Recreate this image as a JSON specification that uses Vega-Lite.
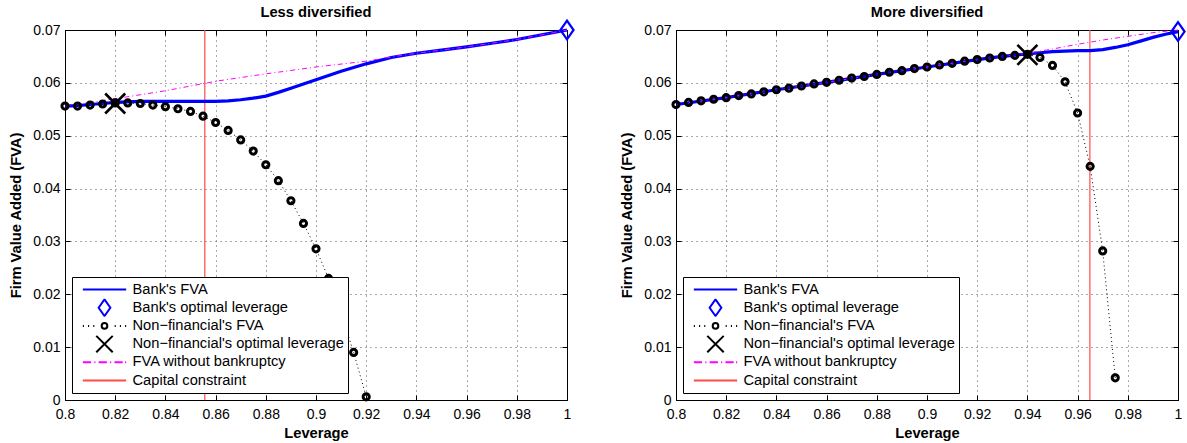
{
  "$schema": "https://vega.github.io/schema/vega-lite/v6.json",
  "padding": {"left": 8, "top": 4, "right": 0, "bottom": 0},
  "background": "white",
  "datasets": {
    "less": [
      {"s": "cap", "x": 0.8557},
      {"s": "bankopt", "x": 1.0, "y": 0.07},
      {"s": "nfopt", "x": 0.82, "y": 0.0561},
      {"s": "nf", "x": 0.800, "y": 0.0556},
      {"s": "nf", "x": 0.805, "y": 0.0556},
      {"s": "nf", "x": 0.810, "y": 0.0558},
      {"s": "nf", "x": 0.815, "y": 0.0560},
      {"s": "nf", "x": 0.820, "y": 0.0562},
      {"s": "nf", "x": 0.825, "y": 0.0562},
      {"s": "nf", "x": 0.830, "y": 0.0561},
      {"s": "nf", "x": 0.835, "y": 0.0558},
      {"s": "nf", "x": 0.840, "y": 0.0555},
      {"s": "nf", "x": 0.845, "y": 0.0551},
      {"s": "nf", "x": 0.850, "y": 0.0546},
      {"s": "nf", "x": 0.855, "y": 0.0537},
      {"s": "nf", "x": 0.860, "y": 0.0525},
      {"s": "nf", "x": 0.865, "y": 0.0510},
      {"s": "nf", "x": 0.870, "y": 0.0492},
      {"s": "nf", "x": 0.875, "y": 0.0471},
      {"s": "nf", "x": 0.880, "y": 0.0445},
      {"s": "nf", "x": 0.885, "y": 0.0415},
      {"s": "nf", "x": 0.890, "y": 0.0377},
      {"s": "nf", "x": 0.895, "y": 0.0334},
      {"s": "nf", "x": 0.900, "y": 0.0286},
      {"s": "nf", "x": 0.905, "y": 0.0230},
      {"s": "nf", "x": 0.910, "y": 0.0164},
      {"s": "nf", "x": 0.915, "y": 0.0090},
      {"s": "nf", "x": 0.920, "y": 0.0006},
      {"s": "bank", "x": 0.800, "y": 0.0556},
      {"s": "bank", "x": 0.805, "y": 0.0557},
      {"s": "bank", "x": 0.810, "y": 0.0559},
      {"s": "bank", "x": 0.815, "y": 0.0561},
      {"s": "bank", "x": 0.820, "y": 0.0563},
      {"s": "bank", "x": 0.830, "y": 0.0565},
      {"s": "bank", "x": 0.840, "y": 0.0565},
      {"s": "bank", "x": 0.850, "y": 0.0565},
      {"s": "bank", "x": 0.860, "y": 0.0565},
      {"s": "bank", "x": 0.865, "y": 0.0566},
      {"s": "bank", "x": 0.870, "y": 0.0568},
      {"s": "bank", "x": 0.875, "y": 0.0571},
      {"s": "bank", "x": 0.880, "y": 0.0575},
      {"s": "bank", "x": 0.885, "y": 0.0582},
      {"s": "bank", "x": 0.890, "y": 0.0590},
      {"s": "bank", "x": 0.895, "y": 0.0598},
      {"s": "bank", "x": 0.900, "y": 0.0606},
      {"s": "bank", "x": 0.910, "y": 0.0622},
      {"s": "bank", "x": 0.920, "y": 0.0636},
      {"s": "bank", "x": 0.930, "y": 0.0648},
      {"s": "bank", "x": 0.940, "y": 0.0656},
      {"s": "bank", "x": 0.950, "y": 0.0662},
      {"s": "bank", "x": 0.960, "y": 0.0668},
      {"s": "bank", "x": 0.970, "y": 0.0675},
      {"s": "bank", "x": 0.980, "y": 0.0682},
      {"s": "bank", "x": 0.990, "y": 0.0691},
      {"s": "bank", "x": 1.000, "y": 0.0700},
      {"s": "nobk", "x": 0.800, "y": 0.0556},
      {"s": "nobk", "x": 0.820, "y": 0.0570},
      {"s": "nobk", "x": 0.840, "y": 0.0585},
      {"s": "nobk", "x": 0.860, "y": 0.0603},
      {"s": "nobk", "x": 0.880, "y": 0.0617},
      {"s": "nobk", "x": 0.900, "y": 0.0630},
      {"s": "nobk", "x": 0.920, "y": 0.0641},
      {"s": "nobk", "x": 0.930, "y": 0.0649},
      {"s": "nobk", "x": 0.940, "y": 0.0656},
      {"s": "nobk", "x": 0.950, "y": 0.0662},
      {"s": "nobk", "x": 0.960, "y": 0.0668},
      {"s": "nobk", "x": 0.970, "y": 0.0675},
      {"s": "nobk", "x": 0.980, "y": 0.0682},
      {"s": "nobk", "x": 0.990, "y": 0.0691},
      {"s": "nobk", "x": 1.000, "y": 0.0700}
    ],
    "more": [
      {"s": "cap", "x": 0.9649},
      {"s": "bankopt", "x": 1.0, "y": 0.0697},
      {"s": "nfopt", "x": 0.94, "y": 0.0653},
      {"s": "nf", "x": 0.800, "y": 0.0559},
      {"s": "nf", "x": 0.805, "y": 0.0563},
      {"s": "nf", "x": 0.810, "y": 0.0566},
      {"s": "nf", "x": 0.815, "y": 0.0569},
      {"s": "nf", "x": 0.820, "y": 0.0572},
      {"s": "nf", "x": 0.825, "y": 0.0576},
      {"s": "nf", "x": 0.830, "y": 0.0579},
      {"s": "nf", "x": 0.835, "y": 0.0583},
      {"s": "nf", "x": 0.840, "y": 0.0587},
      {"s": "nf", "x": 0.845, "y": 0.0590},
      {"s": "nf", "x": 0.850, "y": 0.0594},
      {"s": "nf", "x": 0.855, "y": 0.0598},
      {"s": "nf", "x": 0.860, "y": 0.0601},
      {"s": "nf", "x": 0.865, "y": 0.0605},
      {"s": "nf", "x": 0.870, "y": 0.0609},
      {"s": "nf", "x": 0.875, "y": 0.0612},
      {"s": "nf", "x": 0.880, "y": 0.0616},
      {"s": "nf", "x": 0.885, "y": 0.0620},
      {"s": "nf", "x": 0.890, "y": 0.0623},
      {"s": "nf", "x": 0.895, "y": 0.0627},
      {"s": "nf", "x": 0.900, "y": 0.0630},
      {"s": "nf", "x": 0.905, "y": 0.0634},
      {"s": "nf", "x": 0.910, "y": 0.0637},
      {"s": "nf", "x": 0.915, "y": 0.0641},
      {"s": "nf", "x": 0.920, "y": 0.0644},
      {"s": "nf", "x": 0.925, "y": 0.0647},
      {"s": "nf", "x": 0.930, "y": 0.0650},
      {"s": "nf", "x": 0.935, "y": 0.0652},
      {"s": "nf", "x": 0.940, "y": 0.0654},
      {"s": "nf", "x": 0.945, "y": 0.0648},
      {"s": "nf", "x": 0.950, "y": 0.0633},
      {"s": "nf", "x": 0.955, "y": 0.0602},
      {"s": "nf", "x": 0.960, "y": 0.0543},
      {"s": "nf", "x": 0.965, "y": 0.0442},
      {"s": "nf", "x": 0.970, "y": 0.0282},
      {"s": "nf", "x": 0.975, "y": 0.0042},
      {"s": "bank", "x": 0.800, "y": 0.0559},
      {"s": "bank", "x": 0.820, "y": 0.0572},
      {"s": "bank", "x": 0.840, "y": 0.0587},
      {"s": "bank", "x": 0.860, "y": 0.0601},
      {"s": "bank", "x": 0.880, "y": 0.0616},
      {"s": "bank", "x": 0.900, "y": 0.0630},
      {"s": "bank", "x": 0.920, "y": 0.0644},
      {"s": "bank", "x": 0.930, "y": 0.0650},
      {"s": "bank", "x": 0.940, "y": 0.0655},
      {"s": "bank", "x": 0.945, "y": 0.0657},
      {"s": "bank", "x": 0.950, "y": 0.0659},
      {"s": "bank", "x": 0.955, "y": 0.0660},
      {"s": "bank", "x": 0.960, "y": 0.0661},
      {"s": "bank", "x": 0.965, "y": 0.0661},
      {"s": "bank", "x": 0.970, "y": 0.0663},
      {"s": "bank", "x": 0.975, "y": 0.0667},
      {"s": "bank", "x": 0.980, "y": 0.0672},
      {"s": "bank", "x": 0.985, "y": 0.0679},
      {"s": "bank", "x": 0.990, "y": 0.0686},
      {"s": "bank", "x": 0.995, "y": 0.0692},
      {"s": "bank", "x": 1.000, "y": 0.0697},
      {"s": "nobk", "x": 0.800, "y": 0.0559},
      {"s": "nobk", "x": 0.820, "y": 0.0572},
      {"s": "nobk", "x": 0.840, "y": 0.0587},
      {"s": "nobk", "x": 0.860, "y": 0.0601},
      {"s": "nobk", "x": 0.880, "y": 0.0616},
      {"s": "nobk", "x": 0.900, "y": 0.0630},
      {"s": "nobk", "x": 0.920, "y": 0.0644},
      {"s": "nobk", "x": 0.930, "y": 0.0650},
      {"s": "nobk", "x": 0.940, "y": 0.0656},
      {"s": "nobk", "x": 0.950, "y": 0.0664},
      {"s": "nobk", "x": 0.960, "y": 0.0673},
      {"s": "nobk", "x": 0.970, "y": 0.0681},
      {"s": "nobk", "x": 0.980, "y": 0.0688},
      {"s": "nobk", "x": 0.990, "y": 0.0695},
      {"s": "nobk", "x": 1.000, "y": 0.0700}
    ]
  },
  "config": {
    "font": "Liberation Sans",
    "view": {"stroke": "black", "strokeWidth": 1},
    "axis": {
      "labelFont": "Liberation Sans", "titleFont": "Liberation Sans",
      "labelFontSize": 14, "titleFontSize": 14.7, "titleFontWeight": "bold",
      "labelColor": "black", "titleColor": "black",
      "domainColor": "black", "tickColor": "black", "tickSize": -5, "tickWidth": 1,
      "gridColor": "#555555", "gridDash": [1, 4], "gridOpacity": 1, "gridWidth": 1,
      "labelFlush": false, "labelOverlap": false
    },
    "axisX": {"labelPadding": 12, "titlePadding": 4},
    "axisY": {"labelPadding": 10, "titlePadding": 9},
    "title": {"font": "Liberation Sans", "fontSize": 14.7, "fontWeight": "bold", "color": "black", "anchor": "middle"}
  },
  "spacing": 109,
  "bounds": "flush",
  "resolve": {"scale": {"color": "independent", "shape": "independent"}, "legend": {"color": "independent", "shape": "independent"}},
  "hconcat": [
    {
      "width": 502, "height": 370,
      "title": {"text": "Less diversified", "offset": -3},
      "data": {"name": "less"},
      "layer": [
        {"transform": [{"filter": "datum.s === 'cap'"}], "mark": {"type": "rule", "color": "#ff4a4a", "strokeWidth": 1.2},
         "encoding": {"x": {"field": "x", "type": "quantitative", "scale": {"domain": [0.8, 1], "nice": false, "zero": false}, "axis": null}}},
        {"transform": [{"filter": "datum.s === 'bank'"}], "mark": {"type": "line", "color": "#0000ff", "strokeWidth": 3.2},
         "encoding": {
           "x": {"field": "x", "type": "quantitative", "scale": {"domain": [0.8, 1], "nice": false, "zero": false},
                 "axis": {"orient": "bottom", "values": [0.8, 0.82, 0.84, 0.86, 0.88, 0.9, 0.92, 0.94, 0.96, 0.98, 1], "format": "~g", "title": "Leverage", "grid": true}},
           "y": {"field": "y", "type": "quantitative", "scale": {"domain": [0, 0.07], "nice": false},
                 "axis": {"orient": "left", "values": [0, 0.01, 0.02, 0.03, 0.04, 0.05, 0.06, 0.07], "format": "~g", "title": "Firm Value Added (FVA)", "grid": true}}}},
        {"transform": [{"filter": "datum.s === 'nobk'"}], "mark": {"type": "line", "color": "#ff00ff", "strokeWidth": 1, "strokeDash": [5, 3, 1, 3]},
         "encoding": {
           "x": {"field": "x", "type": "quantitative", "scale": {"domain": [0.8, 1], "nice": false, "zero": false},
                 "axis": {"orient": "top", "values": [0.8, 0.82, 0.84, 0.86, 0.88, 0.9, 0.92, 0.94, 0.96, 0.98, 1], "labels": false, "title": null, "grid": false}},
           "y": {"field": "y", "type": "quantitative", "scale": {"domain": [0, 0.07], "nice": false},
                 "axis": {"orient": "right", "values": [0, 0.01, 0.02, 0.03, 0.04, 0.05, 0.06, 0.07], "labels": false, "title": null, "grid": false}}}},
        {"transform": [{"filter": "datum.s === 'nf'"}], "mark": {"type": "line", "color": "black", "strokeWidth": 1, "strokeDash": [1, 3]},
         "encoding": {"x": {"field": "x", "type": "quantitative", "axis": null}, "y": {"field": "y", "type": "quantitative", "axis": null}}},
        {"transform": [{"filter": "datum.s === 'nf'"}], "mark": {"type": "point", "shape": "circle", "filled": false, "color": "black", "opacity": 1, "strokeWidth": 3, "size": 38},
         "encoding": {"x": {"field": "x", "type": "quantitative", "axis": null}, "y": {"field": "y", "type": "quantitative", "axis": null}}},
        {"transform": [{"filter": "datum.s === 'nfopt'"}], "mark": {"type": "point", "shape": "M-0.38,-0.38L0.38,0.38M-0.38,0.38L0.38,-0.38", "filled": false, "color": "black", "opacity": 1, "strokeWidth": 2.6, "size": 2770},
         "encoding": {"x": {"field": "x", "type": "quantitative", "axis": null}, "y": {"field": "y", "type": "quantitative", "axis": null}}},
        {"transform": [{"filter": "datum.s === 'bankopt'"}], "mark": {"type": "point", "shape": "M0,-0.385L0.27,0L0,0.385L-0.27,0Z", "filled": false, "color": "#0000ff", "opacity": 1, "strokeWidth": 2.2, "size": 2360},
         "encoding": {"x": {"field": "x", "type": "quantitative", "axis": null}, "y": {"field": "y", "type": "quantitative", "axis": null}}},
        {"transform": [{"filter": "false"}], "mark": {"type": "point", "filled": false, "opacity": 1, "strokeWidth": 2},
         "encoding": {
           "shape": {"field": "name", "type": "nominal",
             "scale": {"domain": ["Bank's FVA", "Bank's optimal leverage", "Non−financial's FVA", "Non−financial's optimal leverage", "FVA without bankruptcy", "Capital constraint"],
                       "range": ["M-1,0L1,0", "M0,-0.385L0.27,0L0,0.385L-0.27,0Z", "M-1,0L-0.95,0M-0.76,0L-0.71,0M-0.52,0L-0.47,0M0.47,0L0.52,0M0.71,0L0.76,0M0.95,0L1,0M-0.13,0A0.13,0.13 0 1,0 0.13,0A0.13,0.13 0 1,0 -0.13,0", "M-0.38,-0.38L0.38,0.38M-0.38,0.38L0.38,-0.38", "M-1,0L-0.62,0M-0.47,0L-0.42,0M-0.27,0L0.11,0M0.26,0L0.31,0M0.46,0L0.84,0M0.95,0L1,0", "M-1,0L1,0"]},
             "legend": {"orient": "bottom-left", "offset": 7, "title": null, "symbolSize": 1875, "clipHeight": 18, "rowPadding": 0.2,
                        "labelFont": "Liberation Sans", "labelFontSize": 14.7, "labelColor": "black", "labelLimit": 400, "padding": 3.5,
                        "strokeColor": "black", "fillColor": "white", "symbolOffset": 6, "labelOffset": 5, "symbolStrokeWidth": 2,
                        "encode": {"symbols": {"update": {"strokeWidth": {"signal": "datum.index === 0 ? 3.2 : (datum.index >= 4 ? 1.3 : 2.5)"}}}}}},
           "color": {"field": "name", "type": "nominal",
             "scale": {"domain": ["Bank's FVA", "Bank's optimal leverage", "Non−financial's FVA", "Non−financial's optimal leverage", "FVA without bankruptcy", "Capital constraint"],
                       "range": ["#0000ff", "#0000ff", "black", "black", "#ff00ff", "#ff4a4a"]},
             "legend": {"orient": "bottom-left", "offset": 7, "title": null, "symbolSize": 1875, "clipHeight": 18, "rowPadding": 0.2,
                        "labelFont": "Liberation Sans", "labelFontSize": 14.7, "labelColor": "black", "labelLimit": 400, "padding": 3.5,
                        "strokeColor": "black", "fillColor": "white", "symbolOffset": 6, "labelOffset": 5, "symbolStrokeWidth": 2,
                        "encode": {"symbols": {"update": {"strokeWidth": {"signal": "datum.index === 0 ? 3.2 : (datum.index >= 4 ? 1.3 : 2.5)"}}}}}}}}
      ]
    },
    {
      "width": 502, "height": 370,
      "title": {"text": "More diversified", "offset": -1.4},
      "data": {"name": "more"},
      "layer": [
        {"transform": [{"filter": "datum.s === 'cap'"}], "mark": {"type": "rule", "color": "#ff4a4a", "strokeWidth": 1.2},
         "encoding": {"x": {"field": "x", "type": "quantitative", "scale": {"domain": [0.8, 1], "nice": false, "zero": false}, "axis": null}}},
        {"transform": [{"filter": "datum.s === 'bank'"}], "mark": {"type": "line", "color": "#0000ff", "strokeWidth": 3.2},
         "encoding": {
           "x": {"field": "x", "type": "quantitative", "scale": {"domain": [0.8, 1], "nice": false, "zero": false},
                 "axis": {"orient": "bottom", "values": [0.8, 0.82, 0.84, 0.86, 0.88, 0.9, 0.92, 0.94, 0.96, 0.98, 1], "format": "~g", "title": "Leverage", "grid": true}},
           "y": {"field": "y", "type": "quantitative", "scale": {"domain": [0, 0.07], "nice": false},
                 "axis": {"orient": "left", "values": [0, 0.01, 0.02, 0.03, 0.04, 0.05, 0.06, 0.07], "format": "~g", "title": "Firm Value Added (FVA)", "grid": true}}}},
        {"transform": [{"filter": "datum.s === 'nobk'"}], "mark": {"type": "line", "color": "#ff00ff", "strokeWidth": 1, "strokeDash": [5, 3, 1, 3]},
         "encoding": {
           "x": {"field": "x", "type": "quantitative", "scale": {"domain": [0.8, 1], "nice": false, "zero": false},
                 "axis": {"orient": "top", "values": [0.8, 0.82, 0.84, 0.86, 0.88, 0.9, 0.92, 0.94, 0.96, 0.98, 1], "labels": false, "title": null, "grid": false}},
           "y": {"field": "y", "type": "quantitative", "scale": {"domain": [0, 0.07], "nice": false},
                 "axis": {"orient": "right", "values": [0, 0.01, 0.02, 0.03, 0.04, 0.05, 0.06, 0.07], "labels": false, "title": null, "grid": false}}}},
        {"transform": [{"filter": "datum.s === 'nf'"}], "mark": {"type": "line", "color": "black", "strokeWidth": 1, "strokeDash": [1, 3]},
         "encoding": {"x": {"field": "x", "type": "quantitative", "axis": null}, "y": {"field": "y", "type": "quantitative", "axis": null}}},
        {"transform": [{"filter": "datum.s === 'nf'"}], "mark": {"type": "point", "shape": "circle", "filled": false, "color": "black", "opacity": 1, "strokeWidth": 3, "size": 38},
         "encoding": {"x": {"field": "x", "type": "quantitative", "axis": null}, "y": {"field": "y", "type": "quantitative", "axis": null}}},
        {"transform": [{"filter": "datum.s === 'nfopt'"}], "mark": {"type": "point", "shape": "M-0.38,-0.38L0.38,0.38M-0.38,0.38L0.38,-0.38", "filled": false, "color": "black", "opacity": 1, "strokeWidth": 2.6, "size": 2770},
         "encoding": {"x": {"field": "x", "type": "quantitative", "axis": null}, "y": {"field": "y", "type": "quantitative", "axis": null}}},
        {"transform": [{"filter": "datum.s === 'bankopt'"}], "mark": {"type": "point", "shape": "M0,-0.385L0.27,0L0,0.385L-0.27,0Z", "filled": false, "color": "#0000ff", "opacity": 1, "strokeWidth": 2.2, "size": 2360},
         "encoding": {"x": {"field": "x", "type": "quantitative", "axis": null}, "y": {"field": "y", "type": "quantitative", "axis": null}}},
        {"transform": [{"filter": "false"}], "mark": {"type": "point", "filled": false, "opacity": 1, "strokeWidth": 2},
         "encoding": {
           "shape": {"field": "name", "type": "nominal",
             "scale": {"domain": ["Bank's FVA", "Bank's optimal leverage", "Non−financial's FVA", "Non−financial's optimal leverage", "FVA without bankruptcy", "Capital constraint"],
                       "range": ["M-1,0L1,0", "M0,-0.385L0.27,0L0,0.385L-0.27,0Z", "M-1,0L-0.95,0M-0.76,0L-0.71,0M-0.52,0L-0.47,0M0.47,0L0.52,0M0.71,0L0.76,0M0.95,0L1,0M-0.13,0A0.13,0.13 0 1,0 0.13,0A0.13,0.13 0 1,0 -0.13,0", "M-0.38,-0.38L0.38,0.38M-0.38,0.38L0.38,-0.38", "M-1,0L-0.62,0M-0.47,0L-0.42,0M-0.27,0L0.11,0M0.26,0L0.31,0M0.46,0L0.84,0M0.95,0L1,0", "M-1,0L1,0"]},
             "legend": {"orient": "bottom-left", "offset": 7, "title": null, "symbolSize": 1875, "clipHeight": 18, "rowPadding": 0.2,
                        "labelFont": "Liberation Sans", "labelFontSize": 14.7, "labelColor": "black", "labelLimit": 400, "padding": 3.5,
                        "strokeColor": "black", "fillColor": "white", "symbolOffset": 6, "labelOffset": 5, "symbolStrokeWidth": 2,
                        "encode": {"symbols": {"update": {"strokeWidth": {"signal": "datum.index === 0 ? 3.2 : (datum.index >= 4 ? 1.3 : 2.5)"}}}}}},
           "color": {"field": "name", "type": "nominal",
             "scale": {"domain": ["Bank's FVA", "Bank's optimal leverage", "Non−financial's FVA", "Non−financial's optimal leverage", "FVA without bankruptcy", "Capital constraint"],
                       "range": ["#0000ff", "#0000ff", "black", "black", "#ff00ff", "#ff4a4a"]},
             "legend": {"orient": "bottom-left", "offset": 7, "title": null, "symbolSize": 1875, "clipHeight": 18, "rowPadding": 0.2,
                        "labelFont": "Liberation Sans", "labelFontSize": 14.7, "labelColor": "black", "labelLimit": 400, "padding": 3.5,
                        "strokeColor": "black", "fillColor": "white", "symbolOffset": 6, "labelOffset": 5, "symbolStrokeWidth": 2,
                        "encode": {"symbols": {"update": {"strokeWidth": {"signal": "datum.index === 0 ? 3.2 : (datum.index >= 4 ? 1.3 : 2.5)"}}}}}}}}
      ]
    }
  ]
}
